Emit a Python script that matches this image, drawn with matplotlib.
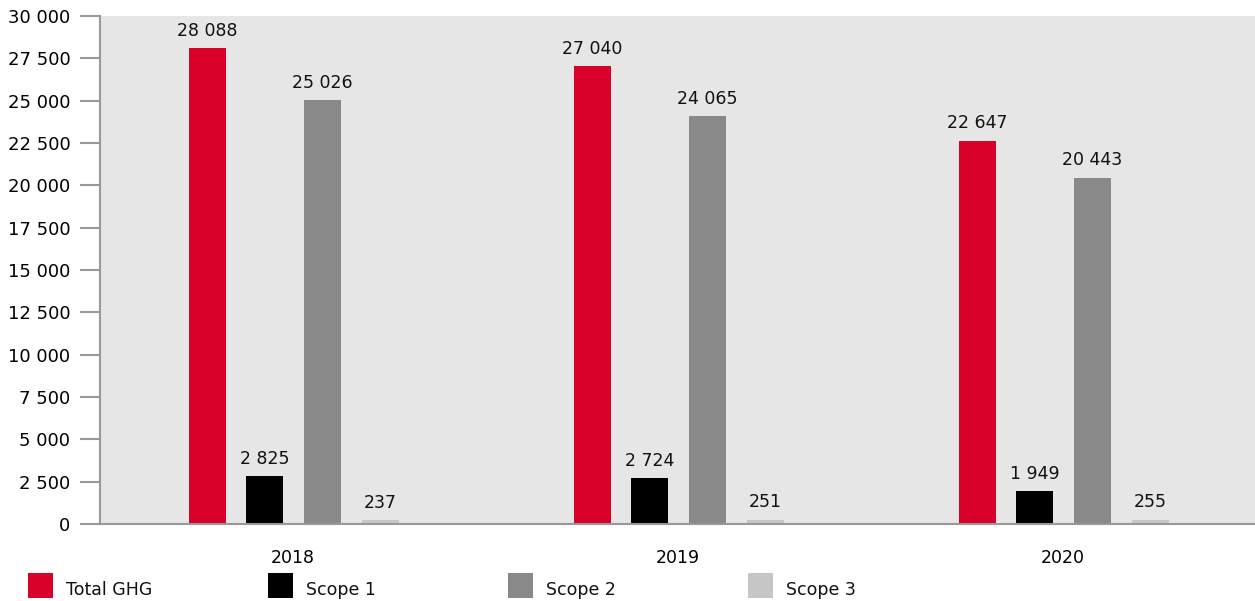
import numpy as np
import matplotlib.pyplot as plt
from matplotlib.patches import Rectangle
from matplotlib.ticker import FuncFormatter

years = ['2018', '2019', '2020']
series = ['Total GHG', 'Scope 1', 'Scope 2', 'Scope 3']
total_ghg = [28088, 27040, 22647]
scope_1 = [2825, 2724, 1949]
scope_2 = [25026, 24065, 20443]
scope_3 = [237, 251, 255]
colors = ['#d9002a', '#000000', '#898989', '#c6c6c6']


def fmt(v, pos=None):
    return '{:,}'.format(int(v)).replace(',', ' ')


def main():
    plt.rcParams['font.family'] = ['DejaVu Sans']
    fig = plt.figure(figsize=(12.55, 6.01), dpi=100)
    ax = fig.add_axes([100/1255, 77/601, 1155/1255, 508/601])
    ax.set_facecolor('#e6e6e6')

    x = np.arange(len(years))
    step = 0.15
    width = 0.096
    data = [total_ghg, scope_1, scope_2, scope_3]
    for i, (vals, c) in enumerate(zip(data, colors)):
        pos = x + (i - 1.5) * step + 0.003
        ax.bar(pos, vals, width=width, color=c, zorder=2)
        for p, v in zip(pos, vals):
            ax.annotate(fmt(v), (p, v), xytext=(0, 6), textcoords='offset points',
                        ha='center', va='bottom', fontsize=12.5, color='#111111')

    ax.set_xlim(-0.5, 2.5)
    ax.set_ylim(0, 30000)
    ax.set_yticks(np.arange(0, 30001, 2500))
    ax.yaxis.set_major_formatter(FuncFormatter(fmt))
    ax.set_xticks(x)
    ax.set_xticklabels(years)
    ax.tick_params(axis='x', length=0, pad=18, labelsize=12.5)
    ax.tick_params(axis='y', length=14.4, width=1.5, color='#999999', pad=7, labelsize=13)
    for s in ['top', 'right']:
        ax.spines[s].set_visible(False)
    for s in ['left', 'bottom']:
        ax.spines[s].set_color('#999999')
        ax.spines[s].set_linewidth(1.5)

    # legend
    for i, (name, c) in enumerate(zip(series, colors)):
        x0 = (28 + i * 240) / 1255
        fig.add_artist(Rectangle((x0, 3/601), 25/1255, 25/601, transform=fig.transFigure,
                                 color=c, lw=0))
        fig.text(x0 + 38/1255, 11/601, name, va='center', ha='left', fontsize=12.5,
                 color='#111111')

    fig.savefig('out.png', dpi=100)


if __name__ == '__main__':
    main()
